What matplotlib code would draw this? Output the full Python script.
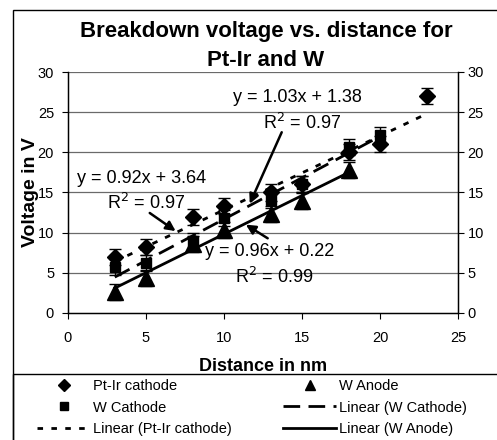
import numpy as np
import matplotlib
matplotlib.use("Agg")
import matplotlib.pyplot as plt
from matplotlib.patches import Rectangle

plt.rcParams['font.family'] = ['Liberation Sans', 'DejaVu Sans']

# data
x_ptir = [3, 5, 8, 10, 13, 15, 18, 20, 23]
v_ptir = [7, 8.2, 12, 13.3, 15, 16, 20, 21, 27]
x_wcat = [3, 5, 8, 10, 13, 15, 18, 20]
v_wcat = [5.7, 6.2, 9, 11.8, 14.1, 16, 20.7, 22.1]
x_wano = [3, 5, 8, 10, 13, 15, 18]
v_wano = [2.6, 4.4, 8.6, 10.3, 12.3, 13.9, 17.8]
err = 1.0

# trendline coefficients as printed on the chart
fit_ptir = (0.92, 3.64)
fit_wcat = (1.03, 1.38)
fit_wano = (0.96, 0.22)

W, H = 497, 440
fig = plt.figure(figsize=(W / 100, H / 100), dpi=100)
ax = fig.add_axes([68 / W, 1 - 313 / H, (458 - 68) / W, (313 - 72) / H])

ax.set_xlim(0, 25)
ax.set_ylim(0, 30)
ax.set_xticks(range(0, 26, 5))
ax.set_yticks(range(0, 31, 5))
for y in range(5, 31, 5):
    ax.axhline(y, color='#6a6a6a', lw=0.9, zorder=0)
ax.spines['top'].set_visible(False)
for s in ['left', 'right', 'bottom']:
    ax.spines[s].set_linewidth(1.0)
ax.tick_params(direction='out', length=4, labelsize=10.5, pad=6)
ax.tick_params(axis='x', pad=9)

ax2 = ax.twinx()
ax2.set_ylim(0, 30)
ax2.set_yticks(range(0, 31, 5))
ax2.spines['top'].set_visible(False)
ax2.tick_params(direction='out', length=4, labelsize=10.5, pad=3)

ebkw = dict(ls='none', color='black', ecolor='black', elinewidth=1, capsize=4, capthick=1)
ax.errorbar(x_ptir, v_ptir, yerr=err, marker='D', ms=8.5, zorder=5, **ebkw)
ax.errorbar(x_wcat, v_wcat, yerr=err, marker='s', ms=7.5, zorder=4, **ebkw)
ax.errorbar(x_wano, v_wano, yerr=err, marker='^', ms=11, zorder=6, **ebkw)

def trend(xs, coef):
    xx = np.array([min(xs), max(xs)])
    return xx, coef[0] * xx + coef[1]

xx, yy = trend(x_ptir, fit_ptir)
ax.plot(xx, yy, color='black', lw=2, dashes=(2, 3), zorder=3)
xx, yy = trend(x_wcat, fit_wcat)
ax.plot(xx, yy, color='black', lw=2, dashes=(6, 3), zorder=3)
xx, yy = trend(x_wano, fit_wano)
ax.plot(xx, yy, color='black', lw=2, zorder=3)

# equation labels and arrows
tkw = dict(fontsize=13, ha='left', va='center', zorder=7)
ax.text(10.56, 26.8, 'y = 1.03x + 1.38', **tkw)
ax.text(12.48, 23.7, 'R$^2$ = 0.97', **tkw)
ax.text(0.56, 16.8, 'y = 0.92x + 3.64', **tkw)
ax.text(2.48, 13.7, 'R$^2$ = 0.97', **tkw)
ax.text(8.76, 7.7, 'y = 0.96x + 0.22', **tkw)
ax.text(10.68, 4.5, 'R$^2$ = 0.99', **tkw)

akw = dict(arrowstyle='-|>', color='black', lw=1.8, mutation_scale=14, shrinkA=0, shrinkB=0)
ax.annotate('', xy=(11.65, 13.6), xytext=(13.7, 22.5), arrowprops=akw)
ax.annotate('', xy=(6.9, 10.2), xytext=(5.24, 12.45), arrowprops=akw)
ax.annotate('', xy=(11.4, 11.0), xytext=(12.8, 9.3), arrowprops=akw)

ax.set_xlabel('Distance in nm', fontsize=13, fontweight='bold', labelpad=9)
ax.set_ylabel('Voltage in V', fontsize=14, fontweight='bold', labelpad=-1)
fig.text(266 / W, 1 - 31 / H, 'Breakdown voltage vs. distance for',
         ha='center', va='center', fontsize=16, fontweight='bold')
fig.text(266 / W, 1 - 60 / H, 'Pt-Ir and W',
         ha='center', va='center', fontsize=16, fontweight='bold')

# outer frame and legend box
fig.patches.append(Rectangle((13 / W, -0.1), 1, 1.1 - 10 / H, transform=fig.transFigure,
                             fill=False, ec='black', lw=1))
fig.patches.append(Rectangle((13 / W, -0.1), 1, 0.1 + (H - 374) / H, transform=fig.transFigure,
                             fill=False, ec='black', lw=1))

h1, = ax.plot([], [], 'D', color='black', ms=6)
h2, = ax.plot([], [], 's', color='black', ms=6)
h3, = ax.plot([], [], color='black', lw=2, dashes=(2, 3))
h4, = ax.plot([], [], '^', color='black', ms=7)
h5, = ax.plot([], [], color='black', lw=2, dashes=(6, 3))
h6, = ax.plot([], [], color='black', lw=2)
fig.legend([h1, h2, h3, h4, h5, h6],
           ['Pt-Ir cathode', 'W Cathode', 'Linear (Pt-Ir cathode)',
            'W Anode', 'Linear (W Cathode)', 'Linear (W Anode)'],
           ncol=2, loc='upper left', bbox_to_anchor=(27 / W, 1 - 369 / H),
           frameon=False, fontsize=10.5, handlelength=3.65, handletextpad=0.2,
           labelspacing=0.5, columnspacing=3.5, borderpad=0.2)

fig.savefig('out.png', dpi=100)
